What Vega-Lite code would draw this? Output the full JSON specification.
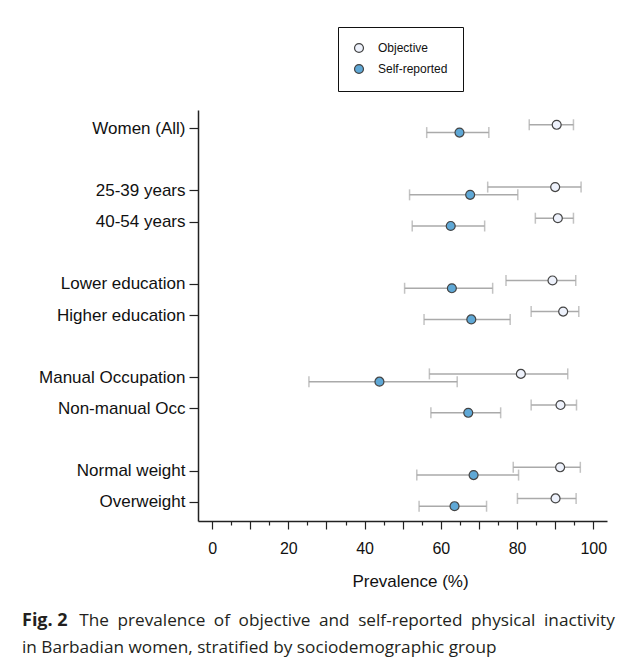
{
  "$schema": "https://vega.github.io/schema/vega-lite/v6.json",
  "autosize": "none",
  "width": 409,
  "height": 411,
  "padding": {"left": 198, "top": 110, "right": 23, "bottom": 143},
  "background": "white",
  "config": {
    "view": {"stroke": null},
    "font": "Liberation Sans",
    "axis": {"grid": false, "domainColor": "#222", "domainWidth": 1.5, "tickColor": "#222", "tickWidth": 1.2, "labelColor": "#111", "titleColor": "#111", "labelFont": "Liberation Sans", "titleFont": "Liberation Sans"}
  },
  "title": {
    "text": "Fig. 2",
    "subtitle": ["\u200b\u2003\u2003\u2003\u2004The\u2002prevalence\u2002of\u2002objective\u2002and\u2002self-reported\u2002physical\u2002inactivity", "in Barbadian women, stratified by sociodemographic group"],
    "orient": "bottom",
    "anchor": "start",
    "frame": "group",
    "dx": -176,
    "offset": 23,
    "font": "Open Sans",
    "fontSize": 18,
    "fontWeight": "bold",
    "color": "#231f20",
    "subtitleFont": "Open Sans",
    "subtitleFontSize": 17.2,
    "subtitleFontWeight": "normal",
    "subtitleColor": "#231f20",
    "subtitleLineHeight": 27,
    "subtitlePadding": -18
  },
  "data": {
    "values": [
      {"group": "Women (All)", "series": "Objective", "value": 90.4, "lo": 83.2, "hi": 94.8},
      {"group": "Women (All)", "series": "Self-reported", "value": 64.9, "lo": 56.3, "hi": 72.6},
      {"group": "25-39 years", "series": "Objective", "value": 90.0, "lo": 72.3, "hi": 96.8},
      {"group": "25-39 years", "series": "Self-reported", "value": 67.7, "lo": 51.8, "hi": 80.2},
      {"group": "40-54 years", "series": "Objective", "value": 90.7, "lo": 84.8, "hi": 94.8},
      {"group": "40-54 years", "series": "Self-reported", "value": 62.6, "lo": 52.5, "hi": 71.5},
      {"group": "Lower education", "series": "Objective", "value": 89.3, "lo": 77.1, "hi": 95.4},
      {"group": "Lower education", "series": "Self-reported", "value": 62.9, "lo": 50.5, "hi": 73.6},
      {"group": "Higher education", "series": "Objective", "value": 92.1, "lo": 83.7, "hi": 96.2},
      {"group": "Higher education", "series": "Self-reported", "value": 68.0, "lo": 55.6, "hi": 78.2},
      {"group": "Manual Occupation", "series": "Objective", "value": 81.0, "lo": 57.0, "hi": 93.3},
      {"group": "Manual Occupation", "series": "Self-reported", "value": 43.9, "lo": 25.4, "hi": 64.3},
      {"group": "Non-manual Occ", "series": "Objective", "value": 91.4, "lo": 83.7, "hi": 95.6},
      {"group": "Non-manual Occ", "series": "Self-reported", "value": 67.2, "lo": 57.4, "hi": 75.7},
      {"group": "Normal weight", "series": "Objective", "value": 91.3, "lo": 79.0, "hi": 96.6},
      {"group": "Normal weight", "series": "Self-reported", "value": 68.6, "lo": 53.7, "hi": 80.4},
      {"group": "Overweight", "series": "Objective", "value": 90.1, "lo": 80.1, "hi": 95.5},
      {"group": "Overweight", "series": "Self-reported", "value": 63.6, "lo": 54.3, "hi": 72.0}
    ]
  },
  "encoding": {
    "y": {
      "field": "group",
      "type": "nominal",
      "title": null,
      "scale": {
        "domain": ["Women (All)", "gap1", "25-39 years", "40-54 years", "gap2", "Lower education", "Higher education", "gap3", "Manual Occupation", "Non-manual Occ", "gap4", "Normal weight", "Overweight"],
        "paddingInner": 0,
        "paddingOuter": 0.1
      },
      "axis": {
        "values": ["Women (All)", "25-39 years", "40-54 years", "Lower education", "Higher education", "Manual Occupation", "Non-manual Occ", "Normal weight", "Overweight"],
        "tickSize": 9,
        "labelPadding": 4,
        "labelFontSize": 17,
        "labelLimit": 300
      }
    },
    "yOffset": {
      "field": "series",
      "type": "nominal",
      "scale": {"paddingInner": 0, "paddingOuter": 1.32}
    }
  },
  "layer": [
    {
      "mark": {"type": "rule", "color": "#aaaaaa", "strokeWidth": 1.5},
      "encoding": {
        "x": {
          "field": "lo", "type": "quantitative", "title": "Prevalence (%)",
          "scale": {"domain": [-3.7, 103.6], "nice": false, "zero": false},
          "axis": {
            "values": [0, 5, 10, 15, 20, 25, 30, 35, 40, 45, 50, 55, 60, 65, 70, 75, 80, 85, 90, 95, 100],
            "tickSize": {"condition": {"test": "datum.value % 10 === 0", "value": 8}, "value": 4},
            "labelExpr": "datum.value % 20 === 0 ? datum.label : ''",
            "labelFontSize": 16,
            "labelPadding": 11,
            "titleFontSize": 17,
            "titleFontWeight": "normal",
            "titlePadding": 17,
            "titleX": 212
          }
        },
        "x2": {"field": "hi"}
      }
    },
    {
      "mark": {"type": "tick", "orient": "vertical", "color": "#aaaaaa", "size": 11, "thickness": 1.5},
      "encoding": {
        "x": {
          "field": "lo", "type": "quantitative", "title": "Prevalence (%)",
          "scale": {"domain": [-3.7, 103.6], "nice": false, "zero": false},
          "axis": {
            "values": [0, 5, 10, 15, 20, 25, 30, 35, 40, 45, 50, 55, 60, 65, 70, 75, 80, 85, 90, 95, 100],
            "tickSize": {"condition": {"test": "datum.value % 10 === 0", "value": 8}, "value": 4},
            "labelExpr": "datum.value % 20 === 0 ? datum.label : ''",
            "labelFontSize": 16,
            "labelPadding": 11,
            "titleFontSize": 17,
            "titleFontWeight": "normal",
            "titlePadding": 17,
            "titleX": 212
          }
        }
      }
    },
    {
      "mark": {"type": "tick", "orient": "vertical", "color": "#aaaaaa", "size": 11, "thickness": 1.5},
      "encoding": {
        "x": {
          "field": "hi", "type": "quantitative", "title": "Prevalence (%)",
          "scale": {"domain": [-3.7, 103.6], "nice": false, "zero": false},
          "axis": {
            "values": [0, 5, 10, 15, 20, 25, 30, 35, 40, 45, 50, 55, 60, 65, 70, 75, 80, 85, 90, 95, 100],
            "tickSize": {"condition": {"test": "datum.value % 10 === 0", "value": 8}, "value": 4},
            "labelExpr": "datum.value % 20 === 0 ? datum.label : ''",
            "labelFontSize": 16,
            "labelPadding": 11,
            "titleFontSize": 17,
            "titleFontWeight": "normal",
            "titlePadding": 17,
            "titleX": 212
          }
        }
      }
    },
    {
      "mark": {"type": "circle", "size": 80, "stroke": "#444444", "strokeWidth": 1.2, "opacity": 1},
      "encoding": {
        "x": {
          "field": "value", "type": "quantitative", "title": "Prevalence (%)",
          "scale": {"domain": [-3.7, 103.6], "nice": false, "zero": false},
          "axis": {
            "values": [0, 5, 10, 15, 20, 25, 30, 35, 40, 45, 50, 55, 60, 65, 70, 75, 80, 85, 90, 95, 100],
            "tickSize": {"condition": {"test": "datum.value % 10 === 0", "value": 8}, "value": 4},
            "labelExpr": "datum.value % 20 === 0 ? datum.label : ''",
            "labelFontSize": 16,
            "labelPadding": 11,
            "titleFontSize": 17,
            "titleFontWeight": "normal",
            "titlePadding": 17,
            "titleX": 212
          }
        },
        "fill": {
          "field": "series",
          "type": "nominal",
          "scale": {"domain": ["Objective", "Self-reported"], "range": ["#eef2fc", "#5fa8d6"]},
          "legend": {
            "title": null,
            "orient": "none",
            "legendX": 140,
            "legendY": -83,
            "strokeColor": "#111",
            "fillColor": "white",
            "padding": 15,
            "rowPadding": 7,
            "symbolType": "circle",
            "symbolSize": 80,
            "symbolStrokeColor": "#444444",
            "symbolStrokeWidth": 1.2,
            "labelOffset": 13,
            "labelFont": "Liberation Sans",
            "labelFontSize": 12,
            "labelColor": "#111"
          }
        }
      }
    }
  ]
}
